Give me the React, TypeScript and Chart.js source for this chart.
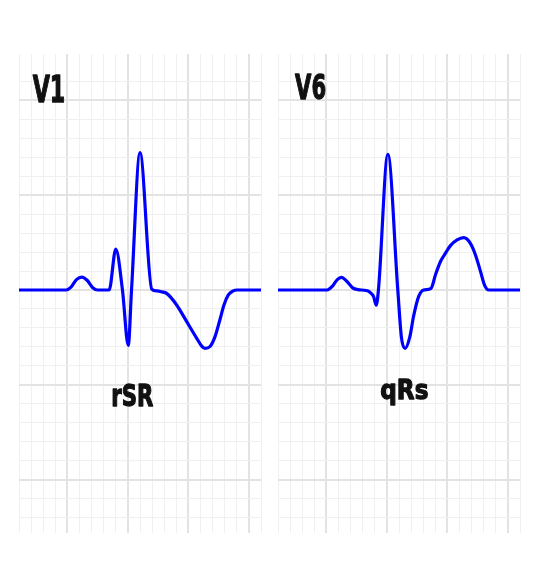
import React, { useEffect, useRef } from "react";
import { Chart, registerables } from "chart.js";

Chart.register(...registerables);

// Lead V1 (rSR pattern): x in small-box units (0.04 s), y in small-box units (0.1 mV)
const v1X = [1, 4.9, 5.3, 5.75, 6.2, 6.65, 7.1, 7.5, 8.45, 9.0, 9.55, 10.03, 10.3, 11.0, 11.97, 12.4, 12.8, 13.2, 14.03, 14.86, 15.69, 16.1, 16.37, 16.79, 17.2, 17.6, 17.94, 18.3, 18.7, 19.0, 21];
const v1Y = [0, 0, 0.15, 0.55, 0.68, 0.5, 0.12, 0, 0, 2.16, 0, -2.92, 0, 7.25, 0.05, -0.05, -0.1, -0.18, -0.79, -1.67, -2.55, -2.96, -3.08, -2.98, -2.46, -1.58, -0.79, -0.26, -0.05, 0, 0];

// Lead V6 (qRs pattern)
const v6X = [1, 5.06, 5.5, 5.9, 6.24, 6.7, 7.2, 7.6, 8.3, 8.6, 8.9, 9.12, 9.3, 10.08, 10.9, 11.2, 11.5, 11.9, 12.2, 12.62, 13.04, 13.65, 14.01, 14.42, 14.84, 15.25, 15.8, 16.35, 16.9, 17.32, 17.74, 18.07, 18.42, 21];
const v6Y = [0, 0, 0.2, 0.55, 0.67, 0.45, 0.1, 0.02, -0.03, -0.12, -0.35, -0.8, 0, 7.16, 0, -2.5, -3.08, -2.46, -1.4, -0.35, 0, 0.09, 0.79, 1.49, 1.94, 2.34, 2.64, 2.76, 2.46, 1.85, 0.97, 0.26, 0, 0];

const leadNames = ["V1", "V6"];
const patternNames = ["rSR", "qRs"];

const X_MIN = 1;
const X_MAX = 21;
const Y_MIN = -12.82;
const Y_MAX = 12.45;
const MAJOR = 5;

type Label = { text: string; x: number; y: number; size: number; width: number; align: "left" | "center" };

const isInt = (v: number) => Math.abs(v - Math.round(v)) < 1e-6;

const labelPlugin = {
  id: "ecgLabels",
  afterDatasetsDraw(chart: any, _args: any, opts: any) {
    const { ctx, scales } = chart;
    const items: Label[] = opts.items || [];
    for (const l of items) {
      ctx.save();
      ctx.font = `bold ${l.size}px "DejaVu Sans"`;
      const m = ctx.measureText(l.text);
      const ink = m.actualBoundingBoxLeft + m.actualBoundingBoxRight;
      const sx = l.width / ink;
      const px = scales.x.getPixelForValue(l.x);
      const py = scales.y.getPixelForValue(l.y);
      const left = l.align === "center" ? px - l.width / 2 : px;
      ctx.translate(left, py);
      ctx.scale(sx, 1);
      ctx.fillStyle = "#111111";
      ctx.strokeStyle = "#111111";
      ctx.lineWidth = 1.3;
      ctx.lineJoin = "round";
      ctx.textAlign = "left";
      ctx.textBaseline = "alphabetic";
      ctx.fillText(l.text, m.actualBoundingBoxLeft, 0);
      ctx.strokeText(l.text, m.actualBoundingBoxLeft, 0);
      ctx.restore();
    }
  },
};

function makeConfig(xs: number[], ys: number[], labels: Label[], padLeft: number, padRight: number) {
  const gridColor = (c: any) => {
    const v = c.tick ? c.tick.value : 0;
    if (!isInt(v)) return "rgba(0,0,0,0)";
    return Math.round(v) % MAJOR === 0 ? "#e3e3e3" : "#f0f0f0";
  };
  const gridWidth = (c: any) => {
    const v = c.tick ? c.tick.value : 0;
    return isInt(v) && Math.round(v) % MAJOR === 0 ? 2 : 1;
  };
  return {
    type: "line" as const,
    data: {
      datasets: [
        {
          data: xs.map((x, i) => ({ x, y: ys[i] })),
          borderColor: "#0000ff",
          borderWidth: 3.2,
          pointRadius: 0,
          cubicInterpolationMode: "monotone" as const,
          fill: false,
          borderCapStyle: "round" as const,
          borderJoinStyle: "round" as const,
        },
      ],
    },
    options: {
      responsive: false,
      animation: false as const,
      devicePixelRatio: 1,
      layout: { padding: { left: padLeft, right: padRight, top: 54, bottom: 49 } },
      plugins: {
        legend: { display: false },
        tooltip: { enabled: false },
        ecgLabels: { items: labels },
      },
      scales: {
        x: {
          type: "linear" as const,
          min: X_MIN,
          max: X_MAX,
          ticks: { display: false, stepSize: 1, maxTicksLimit: 1000, autoSkip: false },
          grid: { color: gridColor, lineWidth: gridWidth, drawTicks: false },
          border: { display: false },
        },
        y: {
          type: "linear" as const,
          min: Y_MIN,
          max: Y_MAX,
          ticks: { display: false, stepSize: 1, maxTicksLimit: 1000, autoSkip: false },
          grid: { color: gridColor, lineWidth: gridWidth, drawTicks: false },
          border: { display: false },
        },
      },
    },
    plugins: [labelPlugin],
  };
}

export default function App() {
  const leftRef = useRef<HTMLCanvasElement>(null);
  const rightRef = useRef<HTMLCanvasElement>(null);

  useEffect(() => {
    document.body.style.margin = "0";
    document.body.style.background = "#ffffff";
    const left = new Chart(
      leftRef.current as HTMLCanvasElement,
      makeConfig(
        v1X,
        v1Y,
        [
          { text: leadNames[0], x: 2.13, y: 9.94, size: 37, width: 31.6, align: "left" },
          { text: patternNames[0], x: 10.42, y: -6.1, size: 30, width: 40.6, align: "center" },
        ],
        19,
        11
      ) as any
    );
    const right = new Chart(
      rightRef.current as HTMLCanvasElement,
      makeConfig(
        v6X,
        v6Y,
        [
          { text: leadNames[1], x: 2.41, y: 10.06, size: 34, width: 30, align: "left" },
          { text: patternNames[1], x: 11.44, y: -5.75, size: 27, width: 46.3, align: "center" },
        ],
        6,
        24
      ) as any
    );
    return () => {
      left.destroy();
      right.destroy();
    };
  }, []);

  return (
    <div style={{ position: "relative", width: 544, height: 582, background: "#fff" }}>
      <canvas ref={leftRef} width={272} height={582} style={{ position: "absolute", left: 0, top: 0 }} />
      <canvas ref={rightRef} width={272} height={582} style={{ position: "absolute", left: 272, top: 0 }} />
    </div>
  );
}
